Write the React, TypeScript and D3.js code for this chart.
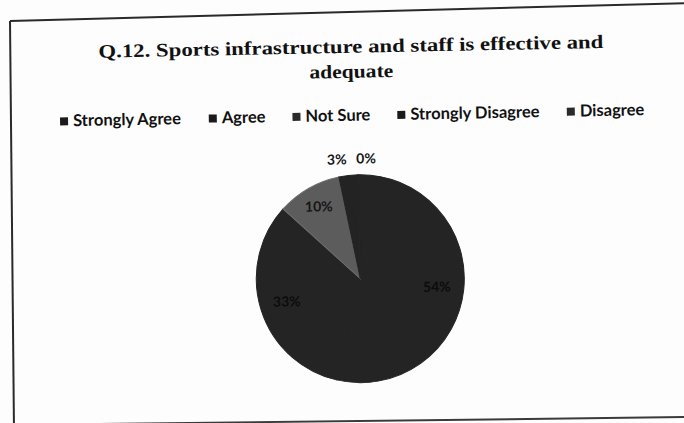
import React from "react";
import * as d3 from "d3";

const categories = ["Strongly Agree", "Agree", "Not Sure", "Strongly Disagree", "Disagree"];
const values = [54, 33, 10, 3, 0];
const valueLabels = ["54%", "33%", "10%", "3%", "0%"];
const sliceColors = ["#242424", "#242424", "#5c5c5c", "#232323", "#262626"];
const legendColors = ["#1a1a1a", "#1a1a1a", "#2a2a2a", "#1a1a1a", "#2a2a2a"];
const titleLines = ["Q.12. Sports infrastructure and staff is effective and", "adequate"];

const W = 684;
const H = 423;

function measure(text: string, font: string): number {
  if (typeof document === "undefined") return text.length * 8;
  const c = document.createElement("canvas");
  const ctx = c.getContext("2d");
  if (!ctx) return text.length * 8;
  ctx.font = font;
  return ctx.measureText(text).width;
}

export default function App() {
  const cx = 359;
  const cy = 279;
  const r = 104;

  const pie = d3.pie<number>().sort(null).value((d) => d).startAngle(0).endAngle(2 * Math.PI);
  const arcs = pie(values);
  const arc = d3.arc<d3.PieArcDatum<number>>().innerRadius(0).outerRadius(r);

  const legendFontSize = 16.5;
  const legendFont = `bold ${legendFontSize}px Lato`;
  const legendWidths = categories.map((c) => measure(c, legendFont));
  const marker = 8;
  const gap = 27;
  const itemW = legendWidths.map((w) => marker + 5 + w);
  const totalW = itemW.reduce((a, b) => a + b, 0) + gap * (categories.length - 1);
  let lx = 354 - totalW / 2;
  const legendX: number[] = [];
  itemW.forEach((w) => {
    legendX.push(lx);
    lx += w + gap;
  });

  const labelPos = arcs.map((a, i) => {
    const mid = (a.startAngle + a.endAngle) / 2;
    const frac = a.endAngle - a.startAngle;
    let rl = r * 0.74;
    let dx = 0;
    if (frac < 0.2) {
      rl = r + 16;
      dx = i === 3 ? -10 : 8;
    }
    if (i === 2) rl = r * 0.8;
    return [Math.sin(mid) * rl + dx, -Math.cos(mid) * rl];
  });

  return (
    <svg width={W} height={H} style={{ display: "block", position: "absolute", left: 0, top: 0, background: "#fdfdfd" }}>
      <rect x={0} y={0} width={W} height={H} fill="#fdfdfd" />
      <path d="M10,21 L690,3" stroke="#2a2a2a" strokeWidth={2} fill="none" />
      <path d="M10,21 L14,430" stroke="#2a2a2a" strokeWidth={2} fill="none" />
      <path d="M14,425 L690,417" stroke="#3a3a3a" strokeWidth={2} fill="none" />
      <g transform="rotate(-1.1 342 211)">
        {titleLines.map((t, i) => (
          <text
            key={i}
            x={354}
            y={53 + i * 25}
            textAnchor="middle"
            fontFamily="'Liberation Serif', serif"
            fontWeight="bold"
            fontSize={19}
            fill="#111"
            textLength={i === 0 ? 505 : 84}
            lengthAdjust="spacingAndGlyphs"
          >
            {t}
          </text>
        ))}
        {categories.map((c, i) => (
          <g key={c} transform={`translate(${legendX[i]},${116})`}>
            <rect x={0} y={-4} width={marker} height={marker} fill={legendColors[i]} />
            <text x={marker + 5} y={5} fontFamily="Lato" fontWeight="bold" fontSize={legendFontSize} fill="#111">
              {c}
            </text>
          </g>
        ))}
        <g transform={`translate(${cx},${cy})`}>
          {arcs.map((a, i) => (
            <path
              key={i}
              d={arc(a) || ""}
              fill={sliceColors[i]}
              stroke={i === 2 ? "#6e6e6e" : sliceColors[i]}
              strokeWidth={1}
            />
          ))}
          {arcs.map((a, i) => (
            <text
              key={"l" + i}
              x={labelPos[i][0]}
              y={labelPos[i][1]}
              dy="0.35em"
              textAnchor="middle"
              fontFamily="Lato"
              fontWeight="bold"
              fontSize={14}
              fill={i === 2 || i >= 3 ? "#151515" : "#0c0c0c"}
            >
              {valueLabels[i]}
            </text>
          ))}
        </g>
      </g>
    </svg>
  );
}
